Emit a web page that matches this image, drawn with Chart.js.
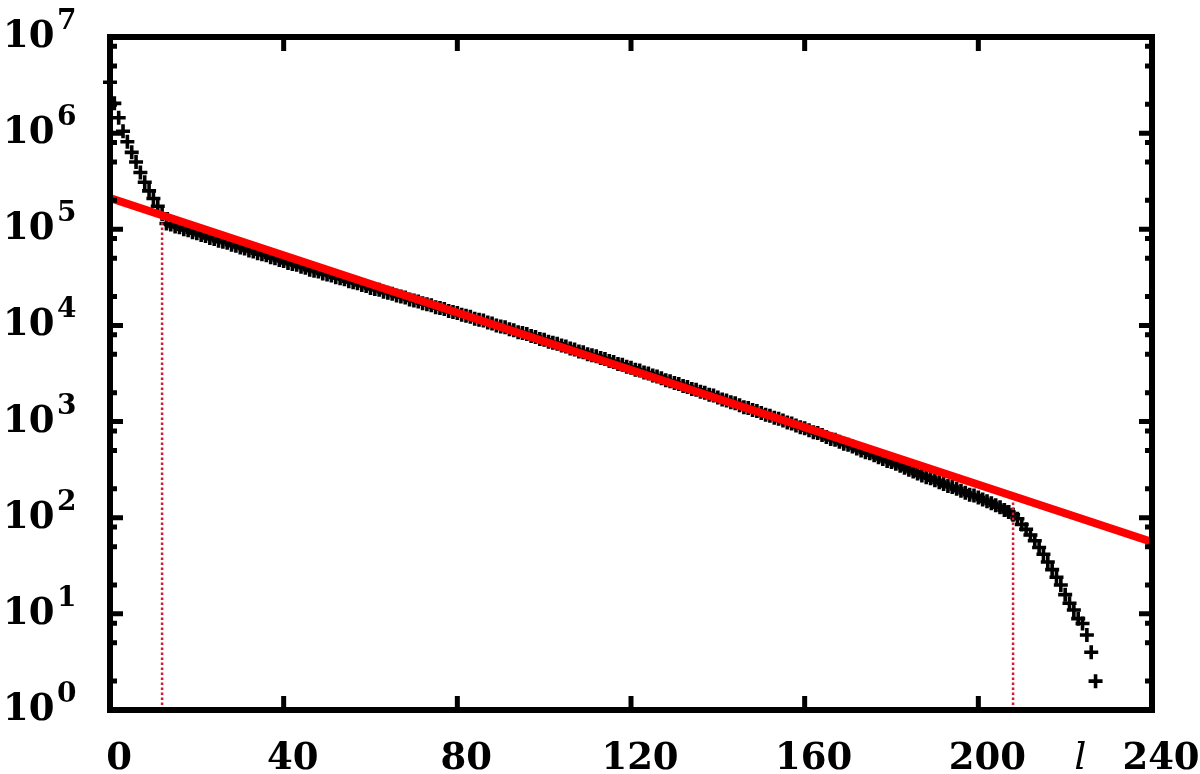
<!DOCTYPE html>
<html>
<head>
<meta charset="UTF-8">
<title>l distribution</title>
<script src="https://cdn.jsdelivr.net/npm/chart.js@4"></script>
<style>
  body { margin: 0; background: #fff; }
  canvas { display: block; }
</style>
</head>
<body>
<canvas id="chart" width="1200" height="774"></canvas>
<script>
// log10 of the counts, one value per l = 0, 1, 2, ...
var logCounts = [
  6.53, 6.31, 6.16, 6.02, 5.91, 5.80, 5.70, 5.59, 5.49, 5.40, 5.32, 5.24, 5.16,
  5.06, 5.05, 5.03, 5.02, 5.00, 4.99, 4.97, 4.96,
  4.94, 4.93, 4.91, 4.90, 4.88, 4.87, 4.86, 4.84, 4.83, 4.81,
  4.80, 4.78, 4.77, 4.75, 4.74, 4.73, 4.71, 4.70, 4.68, 4.67,
  4.65, 4.64, 4.63, 4.61, 4.60, 4.58, 4.57, 4.56, 4.54, 4.53,
  4.52, 4.50, 4.49, 4.48, 4.46, 4.45, 4.44, 4.42, 4.41, 4.39,
  4.38, 4.37, 4.35, 4.34, 4.33, 4.31, 4.30, 4.29, 4.27, 4.26,
  4.25, 4.23, 4.22, 4.21, 4.19, 4.18, 4.17, 4.15, 4.14, 4.13,
  4.11, 4.10, 4.09, 4.07, 4.06, 4.05, 4.03, 4.02, 4.00, 3.99,
  3.98, 3.96, 3.95, 3.93, 3.92, 3.91, 3.89, 3.88, 3.86, 3.85,
  3.83, 3.82, 3.81, 3.79, 3.78, 3.76, 3.75, 3.73, 3.72, 3.70,
  3.69, 3.68, 3.66, 3.65, 3.63, 3.62, 3.60, 3.59, 3.57, 3.56,
  3.54, 3.53, 3.51, 3.50, 3.48, 3.47, 3.45, 3.43, 3.42, 3.40,
  3.39, 3.37, 3.36, 3.34, 3.33, 3.31, 3.30, 3.28, 3.27, 3.25,
  3.23, 3.22, 3.20, 3.19, 3.17, 3.15, 3.14, 3.12, 3.11, 3.09,
  3.07, 3.06, 3.04, 3.03, 3.01, 2.99, 2.98, 2.96, 2.94, 2.93,
  2.91, 2.89, 2.88, 2.86, 2.84, 2.82, 2.81, 2.79, 2.77, 2.76,
  2.74, 2.72, 2.70, 2.68, 2.67, 2.65, 2.63, 2.61, 2.59, 2.58,
  2.56, 2.54, 2.52, 2.50, 2.48, 2.46, 2.44, 2.42, 2.41, 2.39,
  2.37, 2.35, 2.33, 2.32, 2.30, 2.28, 2.26, 2.24, 2.23, 2.21,
  2.19, 2.17, 2.15, 2.13, 2.11, 2.08, 2.06, 2.03,
  1.99, 1.93, 1.88, 1.82, 1.76, 1.69, 1.62, 1.54, 1.46, 1.38,
  1.30, 1.20, 1.11, 1.04, 0.95, 0.90, 0.78, 0.60, 0.30
];

// exponential fit (red line)
var fitL = [0, 240];
var fitCounts = [2.11e5, 56];

// fit range markers (dotted red verticals)
var cutL = [12, 208];
var cutTop = [1.4e5, 167];

// axes
var xTicks = [0, 40, 80, 120, 160, 200, 240];
var yDecades = [0, 1, 2, 3, 4, 5, 6, 7];
var yMinor = [2, 5, 8];
var xTitle = 'l';
var xTitleAt = 223.5;

var points = logCounts.map(function(v, i) {
    return { x: i, y: Math.pow(10, v) };
});

var cutSets = cutL.map(function(l, i) {
    return {
        type: 'line',
        data: [{ x: l, y: 1 }, { x: l, y: cutTop[i] }],
        borderColor: 'rgb(215,25,50)',
        borderWidth: 2.5,
        borderDash: [2.5, 2.5],
        pointRadius: 0,
        order: 1
    };
});

var frame = {
    id: 'frame',
    afterDraw: function(chart) {
        var ctx = chart.ctx;
        var a = chart.chartArea;
        var xs = chart.scales.x;
        var ys = chart.scales.y;

        function hTick(y, len) {
            ctx.beginPath();
            ctx.moveTo(a.left, y); ctx.lineTo(a.left + len, y);
            ctx.moveTo(a.right, y); ctx.lineTo(a.right - len, y);
            ctx.stroke();
        }

        ctx.save();
        ctx.strokeStyle = '#000';
        ctx.fillStyle = '#000';
        ctx.lineCap = 'butt';
        ctx.lineWidth = 5;

        yDecades.forEach(function(e) {
            var v = Math.pow(10, e);
            hTick(ys.getPixelForValue(v), 13);
            if (e < yDecades[yDecades.length - 1]) {
                yMinor.forEach(function(m) {
                    hTick(ys.getPixelForValue(m * v), 7);
                });
            }
        });

        xTicks.forEach(function(t) {
            var px = xs.getPixelForValue(t);
            ctx.beginPath();
            ctx.moveTo(px, a.bottom); ctx.lineTo(px, a.bottom - 14);
            ctx.moveTo(px, a.top); ctx.lineTo(px, a.top + 14);
            ctx.stroke();
        });

        ctx.lineWidth = 6;
        ctx.strokeRect(a.left, a.top, a.right - a.left, a.bottom - a.top);

        // y labels 10^n
        ctx.textAlign = 'left';
        ctx.textBaseline = 'alphabetic';
        yDecades.forEach(function(e) {
            var py = ys.getPixelForValue(Math.pow(10, e));
            ctx.font = 'bold 37px "DejaVu Serif"';
            ctx.fillText('10', a.left - 107, py + 10);
            ctx.font = 'bold 28px "DejaVu Serif"';
            ctx.fillText(String(e), a.left - 53, py - 8);
        });

        // x labels
        ctx.textAlign = 'center';
        ctx.font = 'bold 37px "DejaVu Serif"';
        xTicks.forEach(function(t) {
            ctx.fillText(String(t), xs.getPixelForValue(t) + 9, a.bottom + 59);
        });
        ctx.font = 'italic 38px "DejaVu Serif"';
        ctx.fillText(xTitle, xs.getPixelForValue(xTitleAt), a.bottom + 59);

        ctx.restore();
    }
};

new Chart(document.getElementById('chart'), {
    type: 'scatter',
    data: {
        datasets: [
            {
                type: 'line',
                data: fitL.map(function(l, i) { return { x: l, y: fitCounts[i] }; }),
                borderColor: '#ff0000',
                borderWidth: 8,
                pointRadius: 0,
                order: 0
            }
        ].concat(cutSets).concat([
            {
                data: points,
                pointStyle: 'cross',
                pointRadius: 7,
                borderWidth: 3.6,
                borderColor: '#000',
                backgroundColor: '#000',
                clip: false,
                order: 2
            }
        ])
    },
    options: {
        responsive: false,
        animation: false,
        devicePixelRatio: 1,
        layout: { padding: { left: 110, right: 48, top: 37, bottom: 64 } },
        plugins: { legend: { display: false }, tooltip: { enabled: false } },
        scales: {
            x: { type: 'linear', min: 0, max: 240, display: false },
            y: { type: 'logarithmic', min: 1, max: 1e7, display: false }
        }
    },
    plugins: [frame]
});
</script>
</body>
</html>
